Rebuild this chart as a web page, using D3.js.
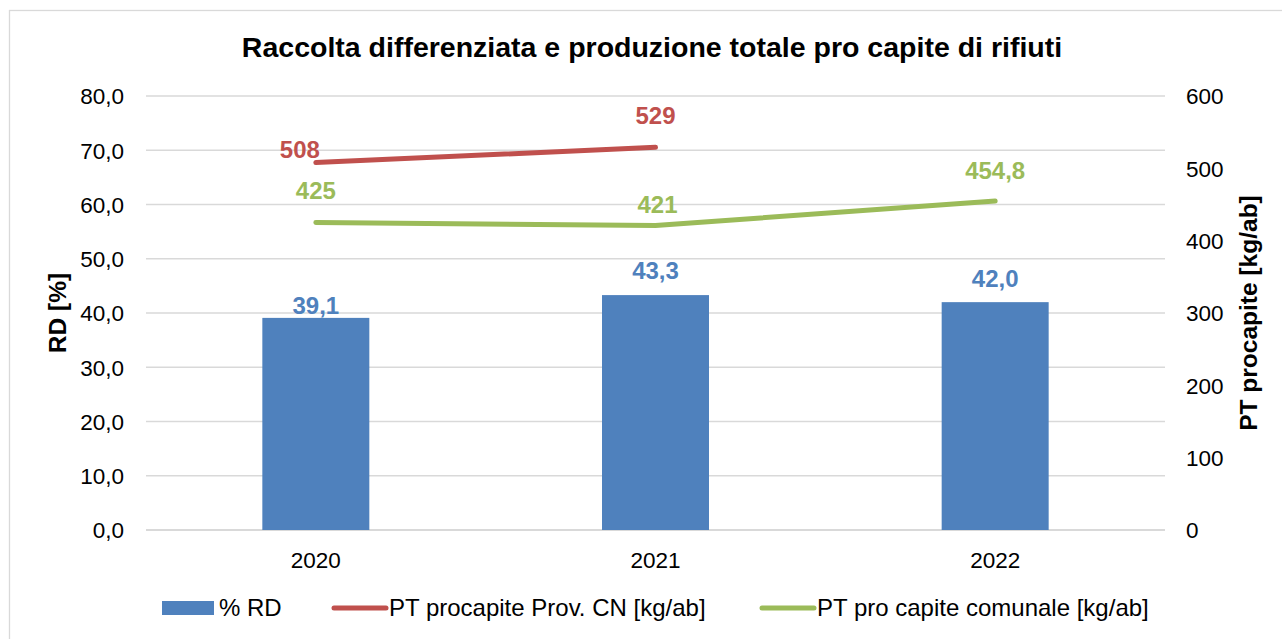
<!DOCTYPE html>
<html><head><meta charset="utf-8">
<script src="https://cdn.jsdelivr.net/npm/d3@7"></script>
<style>
html,body{margin:0;padding:0;background:#fff;}
text{font-family:"Liberation Sans",Arial,sans-serif;}
</style></head>
<body>
<svg id="c" width="1282" height="639"></svg>
<script>
const categories = ["2020", "2021", "2022"];
const rdValues = [39.1, 43.3, 42.0];
const provValues = [508, 529, null];
const comValues = [425, 421, 454.8];
const leftTicks = [0, 10, 20, 30, 40, 50, 60, 70, 80];
const rightTicks = [0, 100, 200, 300, 400, 500, 600];
const seriesNames = ["% RD", "PT procapite Prov. CN [kg/ab]", "PT pro capite comunale [kg/ab]"];
const colors = ["#4F81BD", "#C0504D", "#9BBB59"];

const svg = d3.select("#c");
const W = 1282, H = 639;
const m = {left: 146, right: 1165, top: 96, bottom: 530};

// border
svg.append("rect").attr("x", 9.5).attr("y", 10.5).attr("width", W + 10).attr("height", H + 10)
  .attr("fill", "#fff").attr("stroke", "#D9D9D9").attr("stroke-width", 1.3);

const x = d3.scaleBand().domain(categories).range([m.left, m.right]).paddingInner(0.685).paddingOuter(0.3425);
const xc = d => x(d) + x.bandwidth() / 2;
const yL = d3.scaleLinear().domain([0, 80]).range([m.bottom, m.top]);
const yR = d3.scaleLinear().domain([0, 600]).range([m.bottom, m.top]);

const fmt1 = v => d3.format(".1f")(v).replace(".", ",");

// gridlines
svg.append("g").selectAll("line").data(leftTicks).join("line")
  .attr("x1", m.left).attr("x2", m.right)
  .attr("y1", d => yL(d)).attr("y2", d => yL(d))
  .attr("stroke", "#D9D9D9").attr("stroke-width", d => d === 0 ? 1.8 : 1.3);

// left axis
const gl = svg.append("g").attr("transform", `translate(${m.left - 22},0)`)
  .call(d3.axisLeft(yL).tickValues(leftTicks).tickFormat(fmt1).tickSize(0));
gl.select(".domain").remove();
gl.selectAll("text").attr("font-size", 22.5).attr("fill", "#000").attr("x", 0).attr("dy", "0.35em");

// right axis
const gr = svg.append("g").attr("transform", `translate(${m.right + 21},0)`)
  .call(d3.axisRight(yR).tickValues(rightTicks).tickFormat(d3.format("d")).tickSize(0));
gr.select(".domain").remove();
gr.selectAll("text").attr("font-size", 22.5).attr("fill", "#000").attr("x", 0).attr("dy", "0.35em");

// x axis
const gx = svg.append("g").attr("transform", `translate(0,${m.bottom + 30})`)
  .call(d3.axisBottom(x).tickSize(0));
gx.select(".domain").remove();
gx.selectAll("text").attr("font-size", 22.5).attr("fill", "#000").attr("dy", "0.35em").attr("y", 0);

// bars
svg.append("g").selectAll("rect").data(categories).join("rect")
  .attr("x", d => x(d)).attr("width", x.bandwidth())
  .attr("y", (d, i) => yL(rdValues[i])).attr("height", (d, i) => yL(0) - yL(rdValues[i]))
  .attr("fill", colors[0]);

// lines
const lineGen = d3.line().defined(d => d[1] != null).x(d => xc(d[0])).y(d => yR(d[1]));
[[provValues, colors[1]], [comValues, colors[2]]].forEach(([vals, col]) => {
  svg.append("path").datum(categories.map((c, i) => [c, vals[i]]))
    .attr("d", lineGen).attr("fill", "none").attr("stroke", col)
    .attr("stroke-width", 5).attr("stroke-linecap", "round").attr("stroke-linejoin", "round");
});

const LBL = 24;
// data labels
const barLabelOff = [12, 24, 24];
svg.append("g").selectAll("text").data(categories).join("text")
  .attr("x", d => xc(d)).attr("y", (d, i) => yL(rdValues[i]) - barLabelOff[i])
  .attr("dy", "0.35em").attr("text-anchor", "middle")
  .attr("font-size", LBL).attr("font-weight", "bold").attr("fill", colors[0])
  .text((d, i) => fmt1(rdValues[i]));

const provOff = [[-16, -13], [0, -32], [0, 0]];
svg.append("g").selectAll("text").data(categories.filter((c, i) => provValues[i] != null)).join("text")
  .attr("x", (d, i) => xc(d) + provOff[i][0]).attr("y", (d, i) => yR(provValues[i]) + provOff[i][1])
  .attr("dy", "0.35em").attr("text-anchor", "middle")
  .attr("font-size", LBL).attr("font-weight", "bold").attr("fill", colors[1])
  .text((d, i) => String(provValues[i]));

const comOff = [[0, -31.5], [2, -20.5], [0, -30.7]];
svg.append("g").selectAll("text").data(categories).join("text")
  .attr("x", (d, i) => xc(d) + comOff[i][0]).attr("y", (d, i) => yR(comValues[i]) + comOff[i][1])
  .attr("dy", "0.35em").attr("text-anchor", "middle")
  .attr("font-size", LBL).attr("font-weight", "bold").attr("fill", colors[2])
  .text((d, i) => Number.isInteger(comValues[i]) ? String(comValues[i]) : fmt1(comValues[i]));

// title
svg.append("text").attr("x", 652).attr("y", 57).attr("text-anchor", "middle")
  .attr("font-size", 28.5).attr("font-weight", "bold").attr("fill", "#000")
  .text("Raccolta differenziata e produzione totale pro capite di rifiuti");

// axis titles
svg.append("text").attr("transform", `translate(57,${(m.top + m.bottom) / 2}) rotate(-90)`)
  .attr("text-anchor", "middle").attr("dy", "0.35em")
  .attr("font-size", 24.5).attr("font-weight", "bold").text("RD [%]");
svg.append("text").attr("transform", `translate(1248,${(m.top + m.bottom) / 2}) rotate(-90)`)
  .attr("text-anchor", "middle").attr("dy", "0.35em")
  .attr("font-size", 24.5).attr("font-weight", "bold").text("PT procapite [kg/ab]");

// legend
const legY = 608;
const leg = svg.append("g");
const legX = [162, 332, 760];
seriesNames.forEach((name, i) => {
  const g = leg.append("g").attr("transform", `translate(${legX[i]},${legY})`);
  if (i === 0) {
    g.append("rect").attr("x", 0).attr("y", -7).attr("width", 52).attr("height", 14).attr("fill", colors[0]);
  } else {
    g.append("line").attr("x1", 2).attr("x2", 54).attr("y1", 0).attr("y2", 0)
      .attr("stroke", colors[i]).attr("stroke-width", 5).attr("stroke-linecap", "round");
  }
  g.append("text").attr("x", 57).attr("dy", "0.35em").attr("font-size", 24).attr("fill", "#000").text(name);
});
</script>
</body></html>
